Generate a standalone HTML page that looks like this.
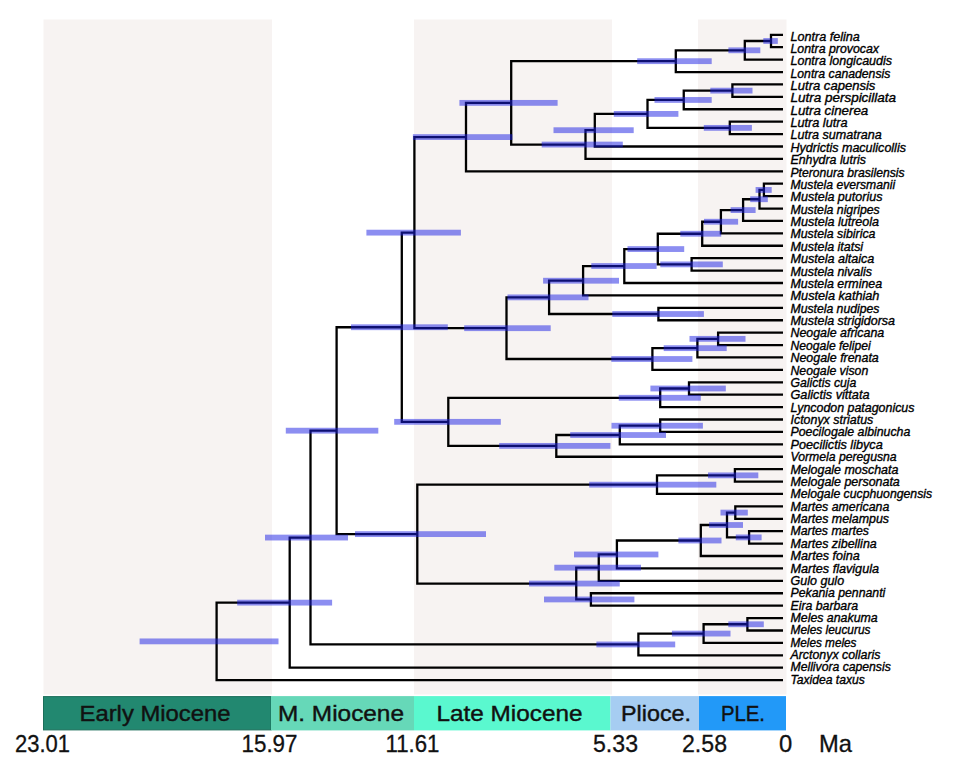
<!DOCTYPE html>
<html><head><meta charset="utf-8"><style>
html,body{margin:0;padding:0;background:#fff;width:960px;height:773px;overflow:hidden}
svg{display:block}
</style></head><body>
<svg width="960" height="773" viewBox="0 0 960 773">
<g fill="#f7f3f2">
<rect x="43.5" y="19.5" width="228.5" height="675"/>
<rect x="414" y="19.5" width="198" height="675"/>
<rect x="698" y="19.5" width="88.5" height="675"/>
</g>
<path d="M771.00 33.65V48.36M771.00 34.80H783.00M771.00 47.21H783.00M744.80 39.85V60.77M744.80 41.00H771.00M744.80 59.62H783.00M675.80 49.16V73.18M675.80 50.31H744.80M675.80 72.03H783.00M732.40 83.29V98.00M732.40 84.44H783.00M732.40 96.85H783.00M683.75 89.49V110.41M683.75 90.64H732.40M683.75 109.26H783.00M729.80 120.52V135.23M729.80 121.67H783.00M729.80 134.08H783.00M647.50 98.80V129.03M647.50 99.95H683.75M647.50 127.88H729.80M594.80 112.76V147.64M594.80 113.91H647.50M594.80 146.49H783.00M585.50 129.05V160.05M585.50 130.20H594.80M585.50 158.90H783.00M511.20 60.02V145.70M511.20 61.17H675.80M511.20 144.55H585.50M466.00 101.71V172.46M466.00 102.86H511.20M466.00 171.31H783.00M763.90 182.57V197.28M763.90 183.72H783.00M763.90 196.13H783.00M759.50 188.78V209.69M759.50 189.93H763.90M759.50 208.54H783.00M743.10 198.08V222.10M743.10 199.23H759.50M743.10 220.95H783.00M720.90 208.94V234.51M720.90 210.09H743.10M720.90 233.36H783.00M702.20 220.58V246.92M702.20 221.73H720.90M702.20 245.77H783.00M691.60 257.03V271.74M691.60 258.18H783.00M691.60 270.59H783.00M657.80 232.60V265.53M657.80 233.75H702.20M657.80 264.38H691.60M624.30 247.92V284.15M624.30 249.07H657.80M624.30 283.00H783.00M583.10 264.88V296.56M583.10 266.03H624.30M583.10 295.41H783.00M658.40 306.67V321.38M658.40 307.82H783.00M658.40 320.23H783.00M549.10 279.57V315.17M549.10 280.72H583.10M549.10 314.02H658.40M718.10 331.49V346.20M718.10 332.64H783.00M718.10 345.05H783.00M697.40 337.70V358.61M697.40 338.85H718.10M697.40 357.46H783.00M652.40 347.00V371.02M652.40 348.15H697.40M652.40 369.87H783.00M506.50 296.22V360.16M506.50 297.37H549.10M506.50 359.01H652.40M414.40 135.94V329.34M414.40 137.09H466.00M414.40 328.19H506.50M689.00 381.13V395.84M689.00 382.28H783.00M689.00 394.69H783.00M660.20 387.34V408.25M660.20 388.49H689.00M660.20 407.10H783.00M660.20 418.36V433.07M660.20 419.51H783.00M660.20 431.92H783.00M619.80 424.57V445.48M619.80 425.72H660.20M619.80 444.33H783.00M556.30 433.87V457.89M556.30 435.02H619.80M556.30 456.74H783.00M448.30 396.64V447.03M448.30 397.79H660.20M448.30 445.88H556.30M401.80 231.49V422.99M401.80 232.64H414.40M401.80 421.84H448.30M734.90 468.00V482.71M734.90 469.15H783.00M734.90 481.56H783.00M657.00 474.21V495.12M657.00 475.36H734.90M657.00 493.97H783.00M735.30 505.23V519.94M735.30 506.38H783.00M735.30 518.79H783.00M749.10 530.05V544.76M749.10 531.20H783.00M749.10 543.61H783.00M727.00 511.44V538.55M727.00 512.59H735.30M727.00 537.40H749.10M700.80 523.85V557.17M700.80 525.00H727.00M700.80 556.02H783.00M616.90 539.36V569.58M616.90 540.51H700.80M616.90 568.43H783.00M598.75 553.32V581.99M598.75 554.47H616.90M598.75 580.84H783.00M590.90 592.10V606.81M590.90 593.25H783.00M590.90 605.66H783.00M576.25 566.50V600.60M576.25 567.65H598.75M576.25 599.45H590.90M417.30 483.51V584.70M417.30 484.66H657.00M417.30 583.55H576.25M336.60 326.09V535.26M336.60 327.24H401.80M336.60 534.11H417.30M747.40 616.92V631.63M747.40 618.07H783.00M747.40 630.48H783.00M703.60 623.12V644.04M703.60 624.27H747.40M703.60 642.89H783.00M638.40 632.43V656.45M638.40 633.58H703.60M638.40 655.30H783.00M310.50 429.52V645.59M310.50 430.67H336.60M310.50 644.44H638.40M289.70 536.41V668.86M289.70 537.56H310.50M289.70 667.71H783.00M216.60 601.48V681.27M216.60 602.63H289.70M216.60 680.12H783.00" stroke="#000" stroke-width="2.3" fill="none" stroke-linecap="butt"/>
<g fill="rgb(25,30,228)" fill-opacity="0.5"><rect x="763.30" y="38.10" width="14.50" height="5.8"/><rect x="728.40" y="47.41" width="31.90" height="5.8"/><rect x="637.20" y="58.27" width="74.50" height="5.8"/><rect x="710.30" y="87.74" width="42.20" height="5.8"/><rect x="654.50" y="97.05" width="57.20" height="5.8"/><rect x="703.80" y="124.97" width="48.10" height="5.8"/><rect x="613.80" y="111.01" width="64.60" height="5.8"/><rect x="553.50" y="127.30" width="80.20" height="5.8"/><rect x="541.70" y="141.65" width="81.10" height="5.8"/><rect x="459.40" y="99.96" width="98.20" height="5.8"/><rect x="412.90" y="134.19" width="99.50" height="5.8"/><rect x="755.60" y="187.03" width="16.10" height="5.8"/><rect x="750.20" y="196.33" width="17.60" height="5.8"/><rect x="730.60" y="207.19" width="25.00" height="5.8"/><rect x="704.00" y="218.83" width="34.10" height="5.8"/><rect x="680.30" y="230.85" width="40.95" height="5.8"/><rect x="660.30" y="261.49" width="62.50" height="5.8"/><rect x="627.50" y="246.17" width="56.70" height="5.8"/><rect x="591.30" y="263.13" width="65.30" height="5.8"/><rect x="543.10" y="277.82" width="75.90" height="5.8"/><rect x="612.30" y="311.12" width="91.60" height="5.8"/><rect x="507.50" y="294.47" width="81.00" height="5.8"/><rect x="689.50" y="335.95" width="56.00" height="5.8"/><rect x="663.70" y="345.25" width="63.00" height="5.8"/><rect x="611.30" y="356.11" width="81.10" height="5.8"/><rect x="464.20" y="325.29" width="86.50" height="5.8"/><rect x="366.40" y="229.74" width="94.50" height="5.8"/><rect x="650.40" y="385.59" width="75.40" height="5.8"/><rect x="618.75" y="394.89" width="82.05" height="5.8"/><rect x="611.50" y="422.82" width="91.40" height="5.8"/><rect x="570.20" y="432.12" width="95.80" height="5.8"/><rect x="499.20" y="442.98" width="111.20" height="5.8"/><rect x="394.20" y="418.94" width="106.60" height="5.8"/><rect x="351.00" y="324.34" width="96.80" height="5.8"/><rect x="708.00" y="472.46" width="50.30" height="5.8"/><rect x="589.20" y="481.76" width="127.10" height="5.8"/><rect x="720.50" y="509.69" width="27.30" height="5.8"/><rect x="735.80" y="534.50" width="25.80" height="5.8"/><rect x="709.10" y="522.10" width="33.90" height="5.8"/><rect x="678.40" y="537.61" width="43.10" height="5.8"/><rect x="574.00" y="551.57" width="84.40" height="5.8"/><rect x="554.30" y="564.75" width="86.70" height="5.8"/><rect x="544.00" y="596.55" width="90.40" height="5.8"/><rect x="529.00" y="580.65" width="90.75" height="5.8"/><rect x="355.00" y="531.21" width="131.00" height="5.8"/><rect x="285.80" y="427.77" width="92.50" height="5.8"/><rect x="728.30" y="621.38" width="35.50" height="5.8"/><rect x="671.90" y="630.68" width="58.60" height="5.8"/><rect x="596.40" y="641.54" width="78.80" height="5.8"/><rect x="265.00" y="534.66" width="83.00" height="5.8"/><rect x="237.20" y="599.73" width="94.90" height="5.8"/><rect x="139.60" y="638.48" width="138.90" height="5.8"/></g>
<g font-family="Liberation Sans" font-style="italic" font-size="12.2" fill="#000" stroke="#000" stroke-width="0.35"><text x="790.5" y="40.50" textLength="69.22" lengthAdjust="spacingAndGlyphs">Lontra felina</text><text x="790.5" y="52.87" textLength="88.51" lengthAdjust="spacingAndGlyphs">Lontra provocax</text><text x="790.5" y="65.24" textLength="101.56" lengthAdjust="spacingAndGlyphs">Lontra longicaudis</text><text x="790.5" y="77.62" textLength="99.81" lengthAdjust="spacingAndGlyphs">Lontra canadensis</text><text x="790.5" y="89.99" textLength="84.86" lengthAdjust="spacingAndGlyphs">Lutra capensis</text><text x="790.5" y="102.36" textLength="105.57" lengthAdjust="spacingAndGlyphs">Lutra perspicillata</text><text x="790.5" y="114.73" textLength="77.73" lengthAdjust="spacingAndGlyphs">Lutra cinerea</text><text x="790.5" y="127.10" textLength="57.0" lengthAdjust="spacingAndGlyphs">Lutra lutra</text><text x="790.5" y="139.48" textLength="91.27" lengthAdjust="spacingAndGlyphs">Lutra sumatrana</text><text x="790.5" y="151.85" textLength="115.45" lengthAdjust="spacingAndGlyphs">Hydrictis maculicollis</text><text x="790.5" y="164.22" textLength="75.43" lengthAdjust="spacingAndGlyphs">Enhydra lutris</text><text x="790.5" y="176.59" textLength="114.08" lengthAdjust="spacingAndGlyphs">Pteronura brasilensis</text><text x="790.5" y="188.96" textLength="104.6" lengthAdjust="spacingAndGlyphs">Mustela eversmanii</text><text x="790.5" y="201.34" textLength="91.96" lengthAdjust="spacingAndGlyphs">Mustela putorius</text><text x="790.5" y="213.71" textLength="89.25" lengthAdjust="spacingAndGlyphs">Mustela nigripes</text><text x="790.5" y="226.08" textLength="88.57" lengthAdjust="spacingAndGlyphs">Mustela lutreola</text><text x="790.5" y="238.45" textLength="84.91" lengthAdjust="spacingAndGlyphs">Mustela sibirica</text><text x="790.5" y="250.82" textLength="72.62" lengthAdjust="spacingAndGlyphs">Mustela itatsi</text><text x="790.5" y="263.20" textLength="83.83" lengthAdjust="spacingAndGlyphs">Mustela altaica</text><text x="790.5" y="275.57" textLength="81.45" lengthAdjust="spacingAndGlyphs">Mustela nivalis</text><text x="790.5" y="287.94" textLength="91.61" lengthAdjust="spacingAndGlyphs">Mustela erminea</text><text x="790.5" y="300.31" textLength="88.92" lengthAdjust="spacingAndGlyphs">Mustela kathiah</text><text x="790.5" y="312.68" textLength="88.87" lengthAdjust="spacingAndGlyphs">Mustela nudipes</text><text x="790.5" y="325.06" textLength="104.5" lengthAdjust="spacingAndGlyphs">Mustela strigidorsa</text><text x="790.5" y="337.43" textLength="93.67" lengthAdjust="spacingAndGlyphs">Neogale africana</text><text x="790.5" y="349.80" textLength="80.14" lengthAdjust="spacingAndGlyphs">Neogale felipei</text><text x="790.5" y="362.17" textLength="88.24" lengthAdjust="spacingAndGlyphs">Neogale frenata</text><text x="790.5" y="374.54" textLength="77.76" lengthAdjust="spacingAndGlyphs">Neogale vison</text><text x="790.5" y="386.92" textLength="65.8" lengthAdjust="spacingAndGlyphs">Galictis cuja</text><text x="790.5" y="399.29" textLength="78.99" lengthAdjust="spacingAndGlyphs">Galictis vittata</text><text x="790.5" y="411.66" textLength="123.96" lengthAdjust="spacingAndGlyphs">Lyncodon patagonicus</text><text x="790.5" y="424.03" textLength="82.8" lengthAdjust="spacingAndGlyphs">Ictonyx striatus</text><text x="790.5" y="436.40" textLength="119.8" lengthAdjust="spacingAndGlyphs">Poecilogale albinucha</text><text x="790.5" y="448.78" textLength="92.26" lengthAdjust="spacingAndGlyphs">Poecilictis libyca</text><text x="790.5" y="461.15" textLength="106.12" lengthAdjust="spacingAndGlyphs">Vormela peregusna</text><text x="790.5" y="473.52" textLength="107.9" lengthAdjust="spacingAndGlyphs">Melogale moschata</text><text x="790.5" y="485.89" textLength="109.28" lengthAdjust="spacingAndGlyphs">Melogale personata</text><text x="790.5" y="498.26" textLength="141.64" lengthAdjust="spacingAndGlyphs">Melogale cucphuongensis</text><text x="790.5" y="510.64" textLength="98.75" lengthAdjust="spacingAndGlyphs">Martes americana</text><text x="790.5" y="523.01" textLength="98.47" lengthAdjust="spacingAndGlyphs">Martes melampus</text><text x="790.5" y="535.38" textLength="78.4" lengthAdjust="spacingAndGlyphs">Martes martes</text><text x="790.5" y="547.75" textLength="86.18" lengthAdjust="spacingAndGlyphs">Martes zibellina</text><text x="790.5" y="560.12" textLength="69.19" lengthAdjust="spacingAndGlyphs">Martes foina</text><text x="790.5" y="572.50" textLength="88.5" lengthAdjust="spacingAndGlyphs">Martes flavigula</text><text x="790.5" y="584.87" textLength="53.6" lengthAdjust="spacingAndGlyphs">Gulo gulo</text><text x="790.5" y="597.24" textLength="94.8" lengthAdjust="spacingAndGlyphs">Pekania pennanti</text><text x="790.5" y="609.61" textLength="67.58" lengthAdjust="spacingAndGlyphs">Eira barbara</text><text x="790.5" y="621.98" textLength="87.16" lengthAdjust="spacingAndGlyphs">Meles anakuma</text><text x="790.5" y="634.36" textLength="79.95" lengthAdjust="spacingAndGlyphs">Meles leucurus</text><text x="790.5" y="646.73" textLength="65.96" lengthAdjust="spacingAndGlyphs">Meles meles</text><text x="790.5" y="659.10" textLength="90.04" lengthAdjust="spacingAndGlyphs">Arctonyx collaris</text><text x="790.5" y="671.47" textLength="100.25" lengthAdjust="spacingAndGlyphs">Mellivora capensis</text><text x="790.5" y="683.84" textLength="74.26" lengthAdjust="spacingAndGlyphs">Taxidea taxus</text></g>
<g>
<rect x="43.5" y="696.6" width="227.5" height="33.3" fill="#228870" stroke="#1c6e5a" stroke-width="1"/>
<rect x="271" y="696.1" width="143" height="34.3" fill="#66d8b8"/>
<rect x="414" y="696.1" width="196.5" height="34.3" fill="#5af8cf"/>
<rect x="610.5" y="696.1" width="88.5" height="34.3" fill="#a6cdf2"/>
<rect x="699" y="696.1" width="87" height="34.3" fill="#2299f8"/>
</g>
<g font-family="Liberation Sans" font-size="21.8" fill="#111" stroke="#111" stroke-width="0.4">
<text x="79.5" y="720.8" textLength="151" lengthAdjust="spacingAndGlyphs">Early Miocene</text>
<text x="278" y="720.8" textLength="126" lengthAdjust="spacingAndGlyphs">M. Miocene</text>
<text x="436.5" y="720.8" textLength="146" lengthAdjust="spacingAndGlyphs">Late Miocene</text>
<text x="621" y="720.8" textLength="70" lengthAdjust="spacingAndGlyphs">Plioce.</text>
<text x="721" y="720.8" textLength="44" lengthAdjust="spacingAndGlyphs">PLE.</text>
</g>
<g font-family="Liberation Sans" font-size="23.8" fill="#111" stroke="#111" stroke-width="0.3">
<text x="15" y="751.8" textLength="55" lengthAdjust="spacingAndGlyphs">23.01</text>
<text x="241.5" y="751.8" textLength="56" lengthAdjust="spacingAndGlyphs">15.97</text>
<text x="385.5" y="751.8" textLength="54" lengthAdjust="spacingAndGlyphs">11.61</text>
<text x="593" y="751.8" textLength="45" lengthAdjust="spacingAndGlyphs">5.33</text>
<text x="682" y="751.8" textLength="45" lengthAdjust="spacingAndGlyphs">2.58</text>
<text x="779" y="751.8">0</text>
<text x="819" y="751.8" textLength="33" lengthAdjust="spacingAndGlyphs">Ma</text>
</g>
</svg>
</body></html>
